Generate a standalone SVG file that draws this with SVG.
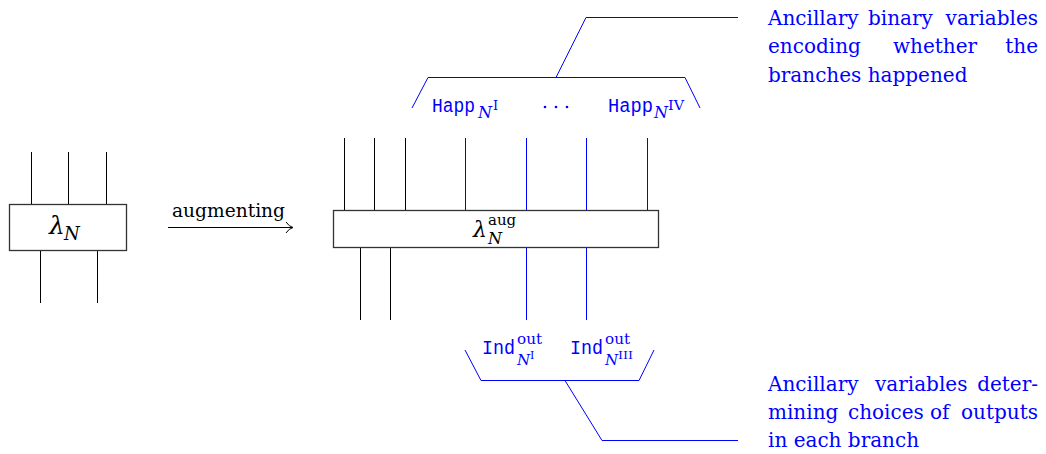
<svg xmlns="http://www.w3.org/2000/svg" width="1046" height="454" viewBox="0 0 1046 454">
<style>
.k{stroke:#000;stroke-width:1;fill:none}
.b{stroke:#0000ff;stroke-width:1;fill:none}
.box{stroke:#333;stroke-width:1.3;fill:#fff}
.t{font-family:"DejaVu Serif","Liberation Serif",serif;font-size:20px;fill:#0000ff}
.m{font-family:"DejaVu Serif","Liberation Serif",serif;font-style:italic}
.r{font-family:"DejaVu Serif","Liberation Serif",serif}
.tt{font-family:"Liberation Mono","DejaVu Sans Mono",monospace;font-size:20px;fill:#0000ff}
</style>
<g id="lambdaN">
<line class="k" x1="31.5" y1="152" x2="31.5" y2="204"/>
<line class="k" x1="68.5" y1="152" x2="68.5" y2="204"/>
<line class="k" x1="106.5" y1="152" x2="106.5" y2="204"/>
<line class="k" x1="40.5" y1="251" x2="40.5" y2="303"/>
<line class="k" x1="97.5" y1="251" x2="97.5" y2="303"/>
<rect class="box" x="9.5" y="204.5" width="117" height="46"/>
<text class="m" x="49" y="234" font-size="25" fill="#000">λ</text>
<text class="m" x="64" y="240" font-size="18" fill="#000">N</text>
</g>
<g id="arrow">
<line class="k" x1="168" y1="227.5" x2="292" y2="227.5"/>
<path class="k" d="M286,222 Q289,226.5 293,227.5 Q289,228.5 286,233"/>
<text class="r" x="172" y="217" font-size="18" textLength="113" lengthAdjust="spacingAndGlyphs" fill="#000">augmenting</text>
</g>
<g id="lambdaAug">
<line class="k" x1="344.5" y1="138" x2="344.5" y2="210"/>
<line class="k" x1="374.5" y1="138" x2="374.5" y2="210"/>
<line class="k" x1="405.5" y1="138" x2="405.5" y2="210"/>
<line class="b" x1="465.5" y1="138" x2="465.5" y2="210"/>
<line class="b" x1="526.5" y1="138" x2="526.5" y2="210"/>
<line class="b" x1="586.5" y1="138" x2="586.5" y2="210"/>
<line class="b" x1="647.5" y1="138" x2="647.5" y2="210"/>
<line class="k" x1="360.5" y1="248" x2="360.5" y2="320"/>
<line class="k" x1="390.5" y1="248" x2="390.5" y2="320"/>
<line class="b" x1="526.5" y1="248" x2="526.5" y2="320"/>
<line class="b" x1="586.5" y1="248" x2="586.5" y2="320"/>
<rect class="box" x="333.5" y="210.5" width="325" height="37"/>
<text class="m" x="473" y="237" font-size="22" fill="#000">λ</text>
<text class="r" x="488" y="225" font-size="15" fill="#000">aug</text>
<text class="m" x="488" y="244" font-size="16" fill="#000">N</text>
</g>
<g id="happ">
<text class="tt" x="432" y="112" textLength="43" lengthAdjust="spacingAndGlyphs">Happ</text>
<text class="m" x="478" y="118" font-size="16" fill="#0000ff">N</text>
<text class="r" x="493" y="110" font-size="13" fill="#0000ff">I</text>
<circle cx="545" cy="107" r="1.3" fill="#0000ff"/>
<circle cx="556" cy="107" r="1.3" fill="#0000ff"/>
<circle cx="567" cy="107" r="1.3" fill="#0000ff"/>
<text class="tt" x="608" y="112" textLength="45" lengthAdjust="spacingAndGlyphs">Happ</text>
<text class="m" x="654" y="118" font-size="16" fill="#0000ff">N</text>
<text class="r" x="668" y="110" font-size="13" fill="#0000ff" textLength="16" lengthAdjust="spacingAndGlyphs">IV</text>
</g>
<g id="ind">
<text class="tt" x="482" y="354" textLength="33" lengthAdjust="spacingAndGlyphs">Ind</text>
<text class="r" x="517" y="344" font-size="14" fill="#0000ff" textLength="25" lengthAdjust="spacingAndGlyphs">out</text>
<text class="m" x="517" y="365" font-size="15" fill="#0000ff">N</text>
<text class="r" x="530" y="359" font-size="11" fill="#0000ff">I</text>
<text class="tt" x="570" y="354" textLength="33" lengthAdjust="spacingAndGlyphs">Ind</text>
<text class="r" x="605" y="344" font-size="14" fill="#0000ff" textLength="25" lengthAdjust="spacingAndGlyphs">out</text>
<text class="m" x="605" y="365" font-size="15" fill="#0000ff">N</text>
<text class="r" x="618" y="359" font-size="11" fill="#0000ff" textLength="15" lengthAdjust="spacingAndGlyphs">III</text>
</g>
<g id="connectors">
<path class="b" d="M412,108 L428,77.5 L685,77.5 L700,108"/>
<path class="b" d="M556,77.5 L586,17.5 L738,17.5"/>
<path class="b" d="M465,350 L481,380.5 L639,380.5 L654,350"/>
<path class="b" d="M565,380.5 L602,440.5 L738,440.5"/>
</g>
<g id="noteTop" class="t">
<text x="768" y="25">Ancillary</text>
<text x="868" y="25">binary</text>
<text x="1038" y="25" text-anchor="end">variables</text>
<text x="768" y="53">encoding</text>
<text x="893" y="53">whether</text>
<text x="1038" y="53" text-anchor="end">the</text>
<text x="768" y="82">branches happened</text>
</g>
<g id="noteBottom" class="t">
<text x="768" y="391">Ancillary</text>
<text x="875" y="391">variables</text>
<text x="1038" y="391" text-anchor="end">deter-</text>
<text x="768" y="419">mining</text>
<text x="848" y="419">choices</text>
<text x="930" y="419">of</text>
<text x="1038" y="419" text-anchor="end">outputs</text>
<text x="768" y="447">in each branch</text>
</g>
</svg>
